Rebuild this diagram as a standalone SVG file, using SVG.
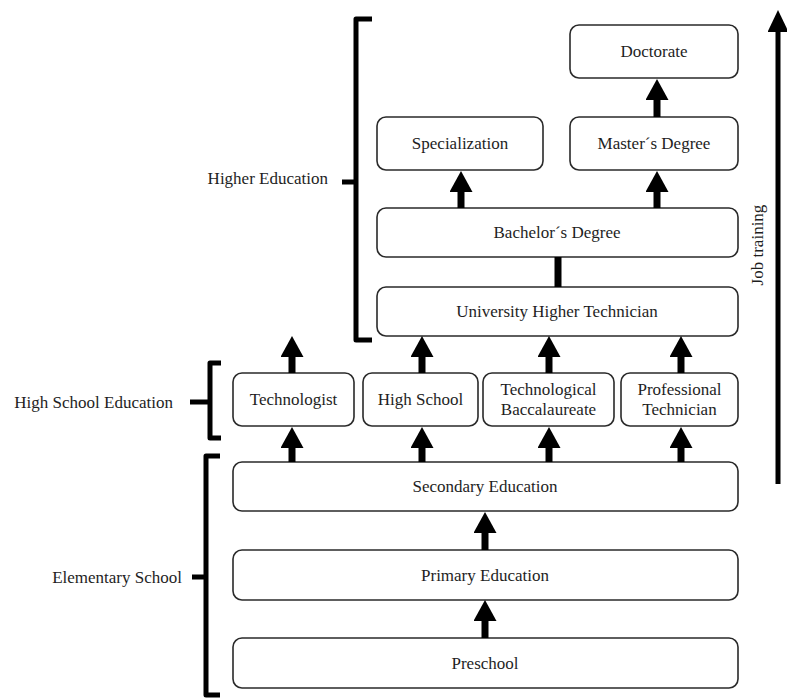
<svg xmlns="http://www.w3.org/2000/svg" width="787" height="698" viewBox="0 0 787 698" font-family="'Liberation Serif', 'Times New Roman', serif">
<defs>
<style>
text{font-family:"Liberation Serif","Times New Roman",serif;font-size:17px;fill:#1e1e1e}
.box{fill:#fff;stroke:#2a2a2a;stroke-width:1.6}
.t{text-anchor:middle}
.lbl{text-anchor:end}
.shaft{stroke:#000;stroke-width:7;fill:none}
.br{stroke:#000;stroke-width:5;fill:none;stroke-linejoin:round}
</style>
<marker id="ah" markerUnits="userSpaceOnUse" markerWidth="21" markerHeight="23" viewBox="0 0 21 23" refX="1" refY="11.5" orient="auto">
<path d="M0,0 L21,11.5 L0,23 Z" fill="#000"/>
</marker>
<marker id="ahj" markerUnits="userSpaceOnUse" markerWidth="22" markerHeight="21" viewBox="0 0 22 21" refX="1" refY="10.5" orient="auto">
<path d="M0,0 L22,10.5 L0,21 Z" fill="#000"/>
</marker>
</defs>
<rect width="787" height="698" fill="#fff"/>

<g id="doctorate"><rect class="box" x="570" y="25" width="168" height="53" rx="9"/><text class="t" x="654" y="57">Doctorate</text></g>
<g id="specialization"><rect class="box" x="377" y="117" width="166" height="53" rx="9"/><text class="t" x="460" y="149">Specialization</text></g>
<g id="masters"><rect class="box" x="570" y="117" width="168" height="53" rx="9"/><text class="t" x="654" y="149">Master´s Degree</text></g>
<g id="bachelor"><rect class="box" x="377" y="208" width="361" height="49" rx="9"/><text class="t" x="557" y="238">Bachelor´s Degree</text></g>
<g id="university"><rect class="box" x="377" y="287" width="361" height="49" rx="9"/><text class="t" x="557" y="317">University Higher Technician</text></g>
<g id="technologist"><rect class="box" x="233" y="373" width="121" height="53" rx="9"/><text class="t" x="293.5" y="405">Technologist</text></g>
<g id="highschool"><rect class="box" x="363" y="373" width="115" height="53" rx="9"/><text class="t" x="420.5" y="405">High School</text></g>
<g id="techbacc"><rect class="box" x="483" y="373" width="131" height="53" rx="9"/><text class="t" x="548.5" y="395">Technological</text><text class="t" x="548.5" y="415">Baccalaureate</text></g>
<g id="proftech"><rect class="box" x="621" y="373" width="117" height="53" rx="9"/><text class="t" x="679.5" y="395">Professional</text><text class="t" x="679.5" y="415">Technician</text></g>
<g id="secondary"><rect class="box" x="233" y="462" width="505" height="49" rx="9"/><text class="t" x="485" y="492">Secondary Education</text></g>
<g id="primary"><rect class="box" x="233" y="550" width="505" height="50" rx="9"/><text class="t" x="485" y="581">Primary Education</text></g>
<g id="preschool"><rect class="box" x="233" y="638" width="505" height="50" rx="9"/><text class="t" x="485" y="669">Preschool</text></g>

<g id="connectors">
<line class="shaft" x1="657" y1="117" x2="657" y2="99" marker-end="url(#ah)"/>
<line class="shaft" x1="461" y1="208" x2="461" y2="191" marker-end="url(#ah)"/>
<line class="shaft" x1="657" y1="208" x2="657" y2="191" marker-end="url(#ah)"/>
<line class="shaft" x1="558" y1="257" x2="558" y2="287"/>
<line class="shaft" x1="292" y1="373" x2="292" y2="356" marker-end="url(#ah)"/>
<line class="shaft" x1="422" y1="373" x2="422" y2="356" marker-end="url(#ah)"/>
<line class="shaft" x1="549" y1="373" x2="549" y2="356" marker-end="url(#ah)"/>
<line class="shaft" x1="681" y1="373" x2="681" y2="356" marker-end="url(#ah)"/>
<line class="shaft" x1="292" y1="462" x2="292" y2="447" marker-end="url(#ah)"/>
<line class="shaft" x1="422" y1="462" x2="422" y2="447" marker-end="url(#ah)"/>
<line class="shaft" x1="549" y1="462" x2="549" y2="447" marker-end="url(#ah)"/>
<line class="shaft" x1="681" y1="462" x2="681" y2="447" marker-end="url(#ah)"/>
<line class="shaft" x1="485" y1="550" x2="485" y2="532" marker-end="url(#ah)"/>
<line class="shaft" x1="485" y1="638" x2="485" y2="620" marker-end="url(#ah)"/>
<line x1="778" y1="484" x2="778" y2="31" stroke="#000" stroke-width="5" marker-end="url(#ahj)"/>
</g>

<g id="brackets">
<path class="br" d="M372,19 H356 V340 H372 M356,182 H342"/>
<path class="br" d="M221,363 H210 V438 H221 M210,402 H190"/>
<path class="br" d="M220,456 H206 V695 H220 M206,577 H192"/>
</g>

<g id="labels">
<text class="lbl" x="328" y="184">Higher Education</text>
<text class="lbl" x="173" y="408">High School Education</text>
<text class="lbl" x="182" y="583">Elementary School</text>
<text class="t" transform="translate(763,245) rotate(-90)">Job training</text>
</g>
</svg>
